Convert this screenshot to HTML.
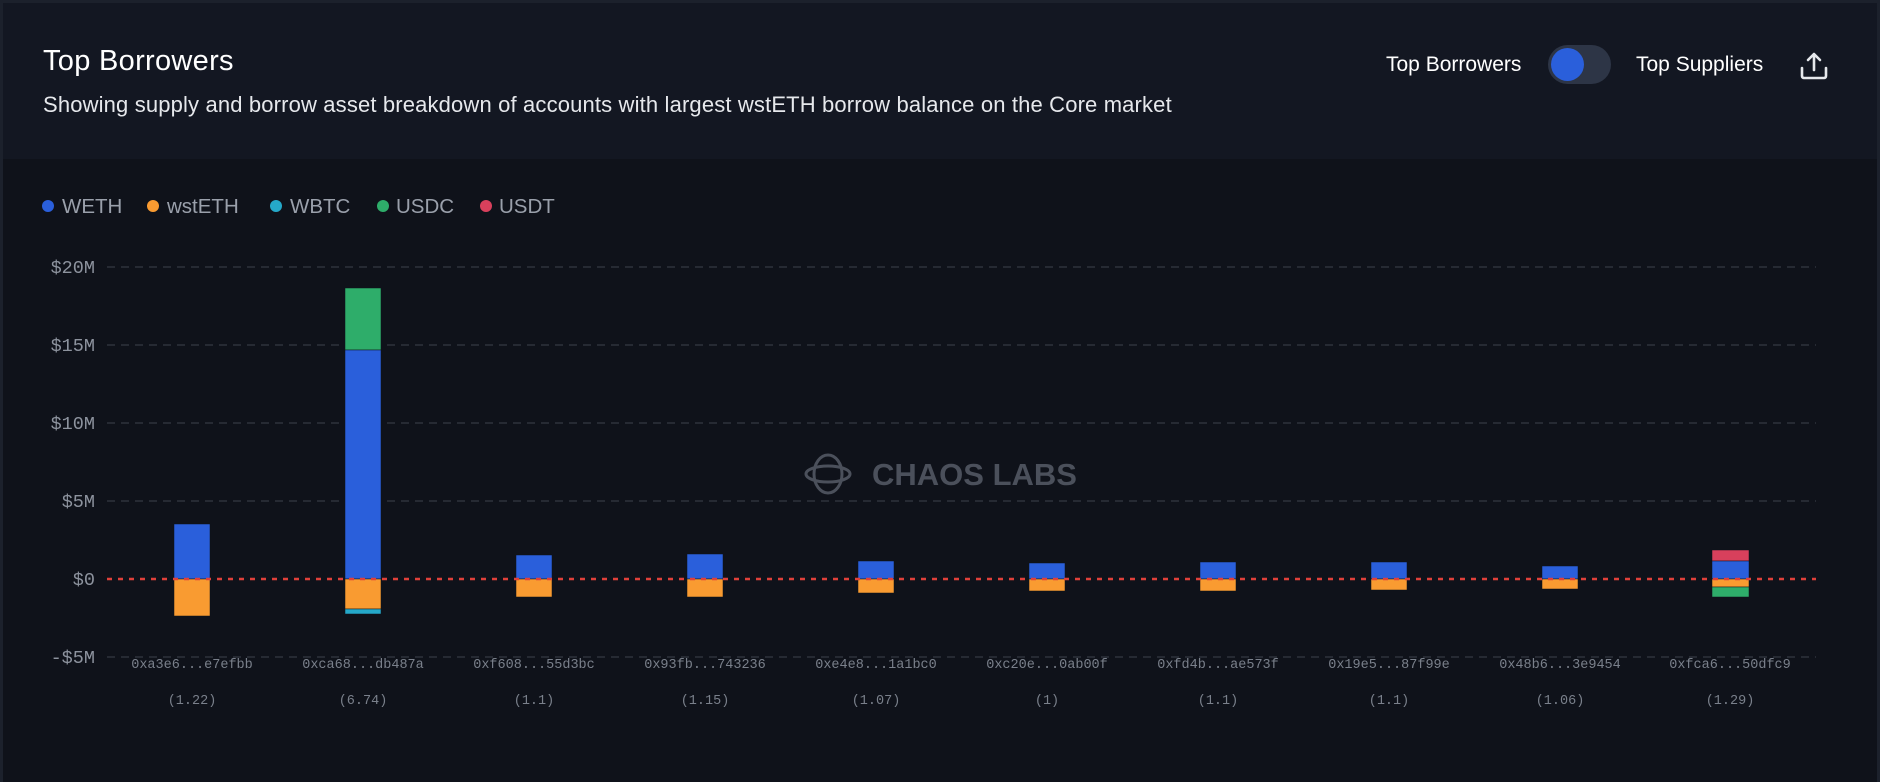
<!DOCTYPE html>
<html><head><meta charset="utf-8"><style>
body{margin:0;width:1880px;height:782px;background:#0f121a;overflow:hidden;font-family:"Liberation Sans",sans-serif;}
.hdr{position:absolute;left:3px;top:3px;width:1874px;height:156px;background:#131722;}
.bt{position:absolute;left:0;top:0;width:1880px;height:3px;background:#1c212c;}
.lb{position:absolute;left:0;top:0;width:3px;height:782px;background:#1c212c;}
.rb{position:absolute;right:0;top:0;width:3px;height:782px;background:#1c212c;}
.t{position:absolute;color:#fff;white-space:nowrap;}
</style></head><body>
<div class="hdr"></div><div class="bt"></div><div class="lb"></div><div class="rb"></div>
<div class="t" style="left:43px;top:45px;font-size:29px;letter-spacing:0.3px;">Top Borrowers</div>
<div class="t" style="left:43px;top:92px;font-size:22px;color:#e6e8ec;letter-spacing:0.15px;">Showing supply and borrow asset breakdown of accounts with largest wstETH borrow balance on the Core market</div>
<div class="t" style="left:1386px;top:53px;font-size:21px;">Top Borrowers</div>
<div style="position:absolute;left:1548px;top:45px;width:63px;height:39px;border-radius:20px;background:#2d3546;"></div>
<div style="position:absolute;left:1551px;top:48px;width:33px;height:33px;border-radius:50%;background:#2a5fdb;"></div>
<div class="t" style="left:1636px;top:53px;font-size:21px;">Top Suppliers</div>
<svg style="position:absolute;left:1798px;top:50px" width="32" height="32" viewBox="0 0 32 32" fill="none" stroke="#e6e8ec" stroke-width="2.6" stroke-linecap="round" stroke-linejoin="round"><path d="M16 4v16M10 10l6-6 6 6M4 18v8a2 2 0 0 0 2 2h20a2 2 0 0 0 2-2v-8"/></svg>
<svg style="position:absolute;left:0;top:0" width="1880" height="782" font-family="Liberation Sans, sans-serif">
<g font-size="20.5" fill="#9aa0ab">
<circle cx="48" cy="206" r="6" fill="#2a5fdb"/><text x="62" y="213">WETH</text>
<circle cx="153" cy="206" r="6" fill="#f99b31"/><text x="167" y="213">wstETH</text>
<circle cx="276" cy="206" r="6" fill="#25a8c9"/><text x="290" y="213">WBTC</text>
<circle cx="383" cy="206" r="6" fill="#2ead6a"/><text x="396" y="213">USDC</text>
<circle cx="486" cy="206" r="6" fill="#d8405c"/><text x="499" y="213">USDT</text>
</g>
<g stroke="#3d424c" stroke-width="1" stroke-dasharray="8,6">
<line x1="107" y1="267" x2="1816" y2="267"/><line x1="107" y1="345" x2="1816" y2="345"/><line x1="107" y1="423" x2="1816" y2="423"/><line x1="107" y1="501" x2="1816" y2="501"/><line x1="107" y1="657" x2="1816" y2="657"/>
</g>
<g font-family="Liberation Mono, monospace" font-size="18.5" fill="#8d939e" text-anchor="end">
<text x="95" y="273">$20M</text><text x="95" y="351">$15M</text><text x="95" y="429">$10M</text><text x="95" y="507">$5M</text><text x="95" y="585">$0</text><text x="95" y="663">-$5M</text>
</g>
<g font-size="31" font-weight="bold" fill="#4b505b"><text x="872" y="485">CHAOS LABS</text></g>
<g fill="none" stroke="#4b505b" stroke-width="3"><ellipse cx="828" cy="474" rx="14" ry="19"/><ellipse cx="828" cy="474" rx="22" ry="8"/></g>
<g stroke="#0f121a" stroke-width="0.5">
<rect x="174" y="524" width="36" height="55" fill="#2a5fdb"/><rect x="174" y="579" width="36" height="37" fill="#f99b31"/>
<rect x="345" y="288" width="36" height="62" fill="#2ead6a"/><rect x="345" y="350" width="36" height="229" fill="#2a5fdb"/><rect x="345" y="579" width="36" height="30" fill="#f99b31"/><rect x="345" y="609" width="36" height="5" fill="#25a8c9"/>
<rect x="516" y="555" width="36" height="24" fill="#2a5fdb"/><rect x="516" y="579" width="36" height="18" fill="#f99b31"/>
<rect x="687" y="554" width="36" height="25" fill="#2a5fdb"/><rect x="687" y="579" width="36" height="18" fill="#f99b31"/>
<rect x="858" y="561" width="36" height="18" fill="#2a5fdb"/><rect x="858" y="579" width="36" height="14" fill="#f99b31"/>
<rect x="1029" y="563" width="36" height="16" fill="#2a5fdb"/><rect x="1029" y="579" width="36" height="12" fill="#f99b31"/>
<rect x="1200" y="562" width="36" height="17" fill="#2a5fdb"/><rect x="1200" y="579" width="36" height="12" fill="#f99b31"/>
<rect x="1371" y="562" width="36" height="17" fill="#2a5fdb"/><rect x="1371" y="579" width="36" height="11" fill="#f99b31"/>
<rect x="1542" y="566" width="36" height="13" fill="#2a5fdb"/><rect x="1542" y="579" width="36" height="10" fill="#f99b31"/>
<rect x="1712" y="550" width="37" height="11" fill="#d8405c"/><rect x="1712" y="561" width="37" height="18" fill="#2a5fdb"/><rect x="1712" y="579" width="37" height="8" fill="#f99b31"/><rect x="1712" y="587" width="37" height="10" fill="#2ead6a"/>
</g>
<line x1="107" y1="579" x2="1816" y2="579" stroke="#e0403a" stroke-width="2.5" stroke-dasharray="5,6"/>
<g font-family="Liberation Mono, monospace" font-size="13.5" fill="#7a808b" text-anchor="middle">
<text x="192" y="668">0xa3e6...e7efbb</text><text x="363" y="668">0xca68...db487a</text><text x="534" y="668">0xf608...55d3bc</text><text x="705" y="668">0x93fb...743236</text><text x="876" y="668">0xe4e8...1a1bc0</text><text x="1047" y="668">0xc20e...0ab00f</text><text x="1218" y="668">0xfd4b...ae573f</text><text x="1389" y="668">0x19e5...87f99e</text><text x="1560" y="668">0x48b6...3e9454</text><text x="1730" y="668">0xfca6...50dfc9</text>
<text x="192" y="704">(1.22)</text><text x="363" y="704">(6.74)</text><text x="534" y="704">(1.1)</text><text x="705" y="704">(1.15)</text><text x="876" y="704">(1.07)</text><text x="1047" y="704">(1)</text><text x="1218" y="704">(1.1)</text><text x="1389" y="704">(1.1)</text><text x="1560" y="704">(1.06)</text><text x="1730" y="704">(1.29)</text>
</g>
</svg>
</body></html>
